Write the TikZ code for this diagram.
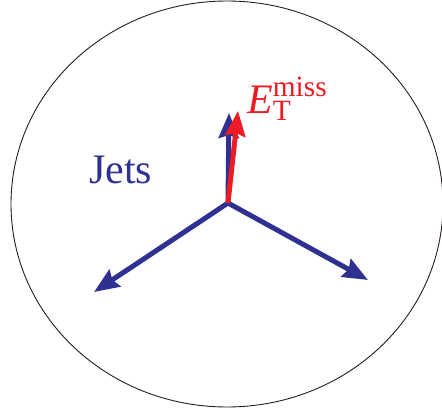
\documentclass[tikz,border=0pt]{standalone}
\usepackage{amsmath}
\usepackage{fontspec}
\setmainfont{Liberation Serif}
\usetikzlibrary{arrows.meta}
\definecolor{evBlue}{HTML}{2E3192}
\definecolor{evRed}{HTML}{ED1C24}
\definecolor{evInk}{HTML}{231F20}
\tikzset{
  jet/.style={-{Stealth[length=25pt,width=20pt,inset=3pt]},draw=evBlue,line width=5pt},
  missing/.style={jet,draw=evRed},
  tag/.style={inner sep=0pt,font=\fontsize{42}{48}\selectfont},
}
\begin{document}
\begin{tikzpicture}[x=1pt,y=-1pt]
  \useasboundingbox (0,0) rectangle (442,414);
  \draw[evInk,line width=.9pt] (227,204) ellipse [x radius=216, y radius=203];
  % event vertex and jet directions
  \coordinate (vtx) at (228,203);
  \coordinate (jetA) at (229,113);
  \coordinate (jetB) at (94,292);
  \coordinate (jetC) at (368,280);
  \coordinate (met) at (238,111);
  \draw[jet] (vtx) -- (jetA);
  \draw[jet] (vtx) -- (jetB);
  \draw[jet] (vtx) -- (jetC);
  \draw[missing] (vtx) -- (met);
  \node[tag,text=evBlue,anchor=base west] (jets) at (89,184) {Jets};
  \node[tag,text=evRed,anchor=base west] (metlabel) at (247,114)
    {$\textit{E}^{\textrm{miss}}_{\textrm{T}}$};
\end{tikzpicture}
\end{document}
